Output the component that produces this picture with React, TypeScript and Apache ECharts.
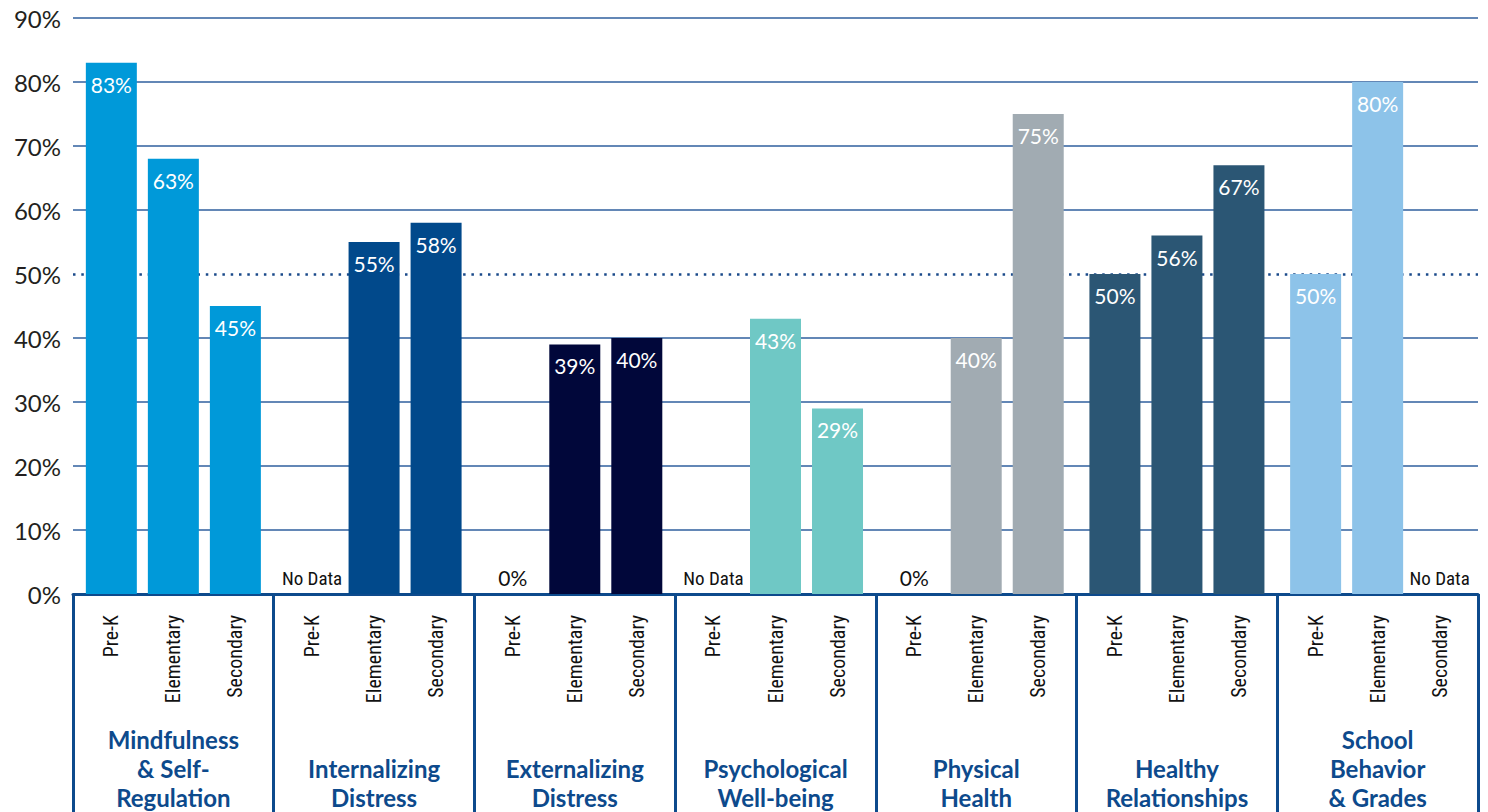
import React, { useEffect, useRef } from 'react';
import * as echarts from 'echarts';

const categories = [
  'Mindfulness\n& Self-\nRegulation',
  'Internalizing\nDistress',
  'Externalizing\nDistress',
  'Psychological\nWell-being',
  'Physical\nHealth',
  'Healthy\nRelationships',
  'School\nBehavior\n& Grades',
];
const levels = ['Pre-K', 'Elementary', 'Secondary'];
const groupColors = ['#0099d9', '#01498b', '#01073a', '#6fc8c5', '#a1abb2', '#2b5674', '#8dc3e9'];

// bar heights as drawn (null = no data)
const preK = [83, null, 0, null, 0, 50, 50];
const elementary = [68, 55, 39, 43, 40, 56, 80];
const secondary = [45, 58, 40, 29, 75, 67, null];

// printed labels
const preKLabels = ['83%', 'No Data', '0%', 'No Data', '0%', '50%', '50%'];
const elementaryLabels = ['63%', '55%', '39%', '43%', '40%', '56%', '80%'];
const secondaryLabels = ['45%', '58%', '40%', '29%', '75%', '67%', 'No Data'];

const yMin = 0;
const yMax = 90;
const yStep = 10;
const threshold = 50;

const MAIN_FONT = 'Lato, "Noto Sans", sans-serif';
const NARROW_FONT = '"Liberation Sans Narrow", "Roboto Condensed", "DejaVu Sans Condensed", sans-serif';
const BLUE = '#0d4a8c';

export default function App() {
  const ref = useRef<HTMLDivElement>(null);
  useEffect(() => {
    if (!ref.current) return;
    const chart = echarts.init(ref.current, null, { renderer: 'svg' });
    const values = [preK, elementary, secondary];
    const labels = [preKLabels, elementaryLabels, secondaryLabels];
    const series: any[] = [];
    levels.forEach((lvl, i) => {
      series.push({
        name: lvl + ' axis',
        type: 'bar',
        stack: 's' + i,
        barWidth: 51,
        barGap: '21.6%',
        silent: true,
        data: categories.map(() => 0),
        itemStyle: { color: 'transparent' },
        label: {
          show: true,
          position: 'bottom',
          distance: 21,
          rotate: 90,
          align: 'right',
          verticalAlign: 'middle',
          formatter: lvl,
          fontFamily: NARROW_FONT,
          fontSize: 20,
          color: '#111',
        },
      });
      series.push({
        name: lvl,
        type: 'bar',
        stack: 's' + i,
        barWidth: 51,
        barGap: '21.6%',
        data: values[i].map((v, j) => {
          if (v == null) {
            return {
              value: 0,
              label: { position: 'top', distance: 6, color: '#111', fontFamily: NARROW_FONT, fontSize: 19 },
            };
          }
          if (v === 0) {
            return {
              value: 0,
              label: { position: 'top', distance: 6, color: '#111', fontFamily: MAIN_FONT, fontSize: 21 },
            };
          }
          return { value: v, itemStyle: { color: groupColors[j] } };
        }),
        label: {
          show: true,
          position: 'insideTop',
          distance: 11,
          color: '#fff',
          fontFamily: MAIN_FONT,
          fontSize: 21,
          formatter: (p: any) => labels[i][p.dataIndex],
        },
      });
    });

    const gridColors = [];
    for (let v = yMin; v <= yMax; v += yStep) gridColors.push(v === threshold ? 'transparent' : '#2f5f9e');

    chart.setOption({
      animation: false,
      grid: { left: 73, right: 10, top: 18, bottom: 216, containLabel: false },
      xAxis: {
        type: 'category',
        data: categories,
        axisLine: { show: true, lineStyle: { color: BLUE, width: 3 } },
        axisTick: { show: true, interval: 0, length: 222, lineStyle: { color: BLUE, width: 3 } },
        axisLabel: {
          interval: 0,
          margin: 218,
          verticalAlign: 'bottom',
          lineHeight: 29,
          fontFamily: MAIN_FONT,
          fontWeight: 'bold',
          fontSize: 24,
          color: BLUE,
        },
      },
      yAxis: [
        {
          type: 'value',
          min: yMin,
          max: yMax,
          interval: yStep,
          axisLine: { show: false },
          axisTick: { show: false },
          axisLabel: { formatter: '{value}%', fontFamily: MAIN_FONT, fontSize: 24, color: '#231f20', margin: 12 },
          splitLine: { show: true, lineStyle: { color: gridColors, width: 1.5 } },
        },
        {
          type: 'value',
          min: yMin,
          max: yMax,
          interval: threshold,
          position: 'right',
          axisLine: { show: false },
          axisTick: { show: false },
          axisLabel: { show: false },
          splitLine: {
            show: true,
            lineStyle: { color: ['transparent', '#1a4a8a', 'transparent'], width: 2.5, type: [2.5, 5.8] },
          },
        },
      ],
      series,
    });
    return () => chart.dispose();
  }, []);
  return <div ref={ref} style={{ position: 'absolute', left: 0, top: 0, width: 1488, height: 812 }} />;
}
